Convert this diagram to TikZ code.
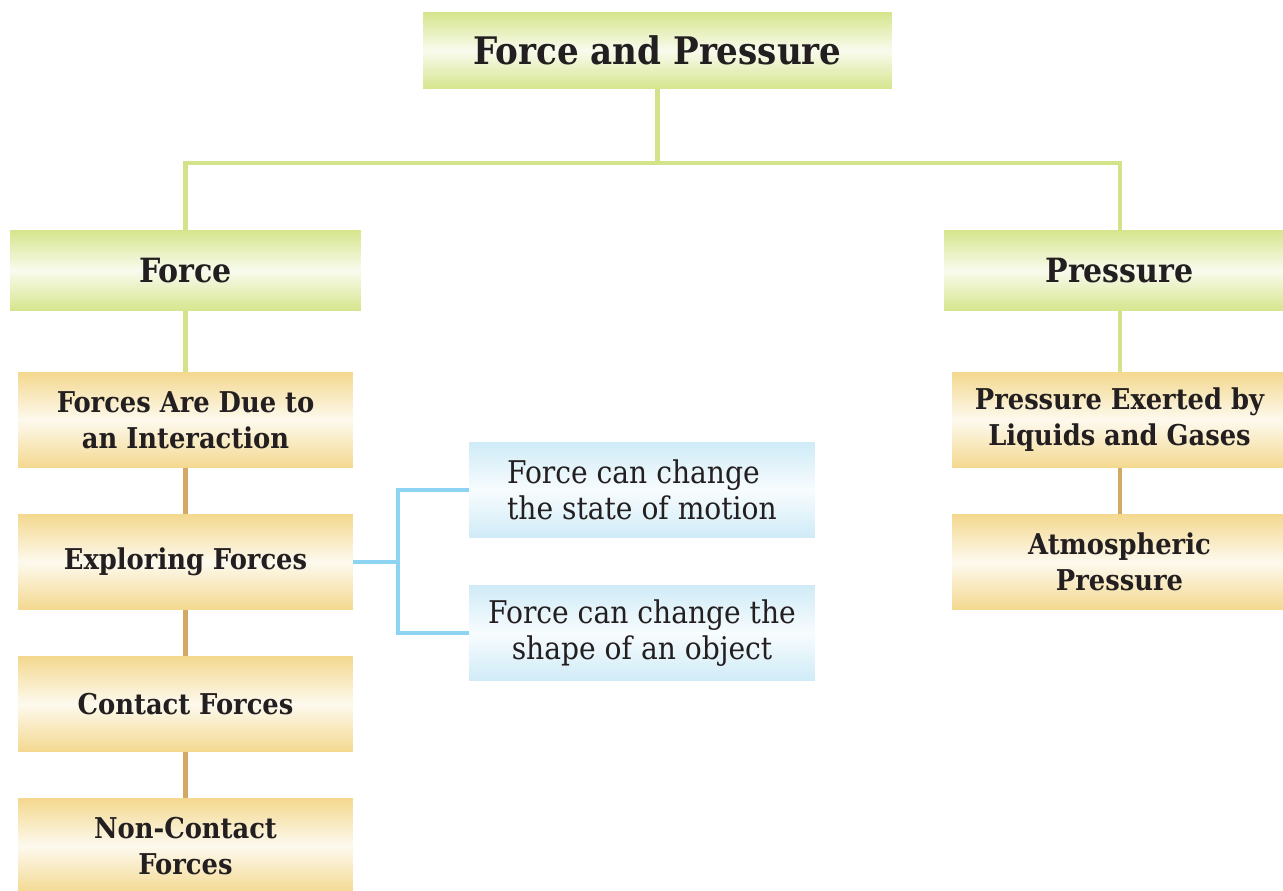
\documentclass[tikz,border=0pt]{standalone}
\usepackage{fontspec}
\setmainfont{DejaVu Serif Condensed}
\definecolor{boxgreen}{HTML}{D5E58C}
\definecolor{boxorange}{HTML}{F3D88E}
\definecolor{boxblue}{HTML}{CFEBF7}
\definecolor{linegreen}{HTML}{D3E38A}
\definecolor{linetan}{HTML}{D2A862}
\definecolor{lineblue}{HTML}{8DD4F2}
\definecolor{inkdark}{HTML}{231F20}
\tikzset{
  box/.style={inner sep=0pt, align=center, text=inkdark},
  greenbox/.style={box, top color=boxgreen, bottom color=boxgreen, middle color=white!85!boxgreen,
    font=\fontsize{19}{23}\selectfont\bfseries},
  orangebox/.style={box, top color=boxorange, bottom color=boxorange, middle color=white!85!boxorange,
    minimum width=6.7cm, minimum height=1.92cm, font=\fontsize{16.3}{20.5}\selectfont\bfseries},
  bluebox/.style={box, top color=boxblue, bottom color=boxblue, middle color=white!85!boxblue,
    minimum width=6.92cm, minimum height=1.92cm, font=\fontsize{17.8}{20.5}\selectfont},
  greenline/.style={linegreen, line width=2.3pt},
  tanline/.style={linetan, line width=2.3pt},
  blueline/.style={lineblue, line width=1.8pt}
}
\begin{document}
\begin{tikzpicture}[x=0.02cm, y=-0.02cm]
\useasboundingbox (0,0) rectangle (1283,891);
% top level
\node[greenbox, minimum width=9.38cm, minimum height=1.54cm, font=\fontsize{21.6}{26}\selectfont\bfseries] (title) at (657.5,50.5) {Force and Pressure};
\node[greenbox, minimum width=7.02cm, minimum height=1.62cm] (force) at (185.5,270.5) {Force};
\node[greenbox, minimum width=7.02cm, minimum height=1.62cm] (pressure) at (1119.5,270.5) {Pressure};
% force branch
\node[orangebox] (due) at (185.5,420) {Forces Are Due to\\an Interaction};
\node[orangebox] (explore) at (185.5,562) {Exploring Forces};
\node[orangebox] (contact) at (185.5,704) {Contact Forces};
\node[orangebox] (noncontact) at (185.5,846) {Non-Contact\\Forces};
\node[bluebox, align=left] (motion) at (642,490) {Force can change\\the state of motion};
\node[bluebox] (shape) at (642,633) {Force can change the\\shape of an object};
% pressure branch
\node[orangebox] (exerted) at (1119.5,420) {Pressure Exerted by\\Liquids and Gases};
\node[orangebox] (atmo) at (1119.5,562) {Atmospheric\\Pressure};
% connectors
\coordinate (split) at (657.5,163);
\coordinate (fork) at (398,562);
\draw[greenline] (title) -- (split) -| (force);
\draw[greenline] (split) -| (pressure);
\draw[greenline] (force) -- (due);
\draw[greenline] (pressure) -- (exerted);
\draw[tanline] (due) -- (explore);
\draw[tanline] (explore) -- (contact);
\draw[tanline] (contact) -- (noncontact);
\draw[tanline] (exerted) -- (atmo);
\draw[blueline] (explore) -- (fork);
\draw[blueline] (fork) |- (motion);
\draw[blueline] (fork) |- (shape);
\end{tikzpicture}
\end{document}
